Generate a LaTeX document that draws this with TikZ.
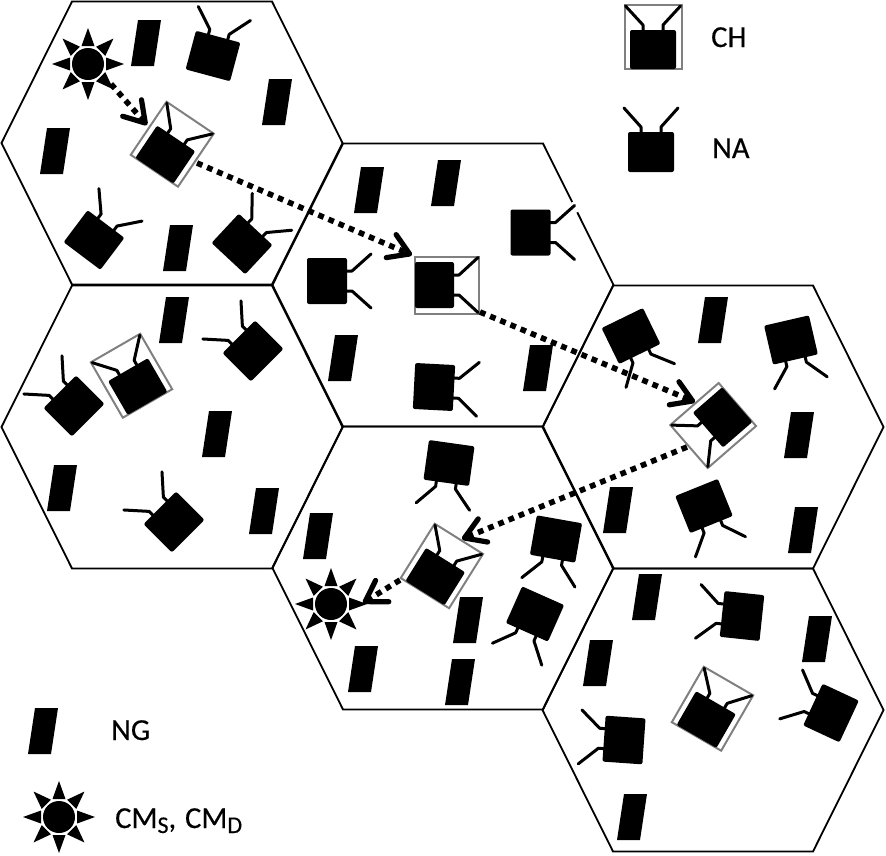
\documentclass[tikz,border=0pt]{standalone}
\usepackage{fontspec}
\setmainfont{Carlito}[FakeBold=0.4]
\usetikzlibrary{arrows.meta}
\definecolor{framegray}{gray}{0.5}
\tikzset{
  cellhex/.style={draw=black,line width=1.8pt,line join=miter},
  hop/.style={line width=5.6pt,dash pattern=on 5.8pt off 5.2pt,
    -{Straight Barb[length=20pt,width=25pt,line width=5.2pt,round]}},
  label/.style={font=\fontsize{30.5}{32}\selectfont,anchor=base west,inner sep=0pt},
  antenna/.style={line width=3pt,line cap=round,line join=round},
  ngshape/.pic={\fill (-8,-23) -- (15,-23) -- (8,23) -- (-15,23) -- cycle;},
  nashape/.pic={
    \fill[rounded corners=2pt] (-23,-20) rectangle (23,20);
    \draw[antenna] (-10,-19) -- (-10,-25) -- (-27,-44);
    \draw[antenna] (10,-19) -- (10,-25) -- (27,-44);},
  chshape/.pic={
    \draw[framegray,line width=2pt] (-28.5,-45) rectangle (28.5,19);
    \fill[rounded corners=2pt] (-23,-20) rectangle (23,19);
    \draw[antenna] (-10,-19) -- (-10,-25) -- (-27.5,-44);
    \draw[antenna] (10,-19) -- (10,-25) -- (27.5,-44);},
  cmshape/.pic={
    \foreach \a in {0,45,...,315}
      \fill[rotate=\a] (-6.5,-18) -- (6.5,-18) -- (0,-36) -- cycle;
    \fill (0,0) circle (16);},
}
\begin{document}
\begin{tikzpicture}[x=1pt,y=-1pt]
\useasboundingbox (0,0) rectangle (886,855);
% cells
\foreach \n/\cx/\cy in {h1/172/143,h2/172/427,h3/443/285,h4/443/568,h5/713/427,h6/713/710}
  \draw[cellhex] (\cx-100,\cy-141.5) -- (\cx+100,\cy-141.5) -- (\cx+170.5,\cy) -- (\cx+100,\cy+141.5) -- (\cx-100,\cy+141.5) -- (\cx-170.5,\cy) -- cycle;
\coordinate (gapa) at (572.5,202);
\coordinate (gapb) at (577.5,212);
\draw[white,line width=3pt] (gapa) -- (gapb);
% NG devices
\foreach \x/\y [count=\i] in {146/43,277/102,55/151,178/248,174/320,217/434,62/488,264/511,369/190,446/183,343/358,538/368,318/536,468/620,460/682,363/669,713/320,799/435,618/510,803/530,647/597,598/663,817/639,632/817,43/731}
  \pic (ng\i) at (\x,\y) {ngshape};
% NA devices
\foreach \x/\y/\r [count=\i] in {213/56/15,94/240/37,242/244/43,74/406/-45,253/351/-45,174/522/-45,530.5/232.5/90,327/281/90,434/387/93,631/336/154,791/340/167,704/506/158,449/463/188,556/539/190,535/614/204,742/616/-84,624/740/-86,831/713/-65,651/152/0}
  \pic[rotate=-\r] (na\i) at (\x,\y) {nashape};
% CH devices
\foreach \x/\y/\r [count=\i] in {165/155/34,138/387/-30,434/285/90,723/417/229,435/577/32,706/720/30,653/50/0}
  \pic[rotate=-\r] (ch\i) at (\x,\y) {chshape};
% CM devices
\pic (cms) at (88,64) {cmshape};
\pic (cmd) at (331,604) {cmshape};
\pic (cmk) at (59,817) {cmshape};
% route
\coordinate (r0) at (111,84);
\coordinate (r1) at (147,125);
\coordinate (r2) at (197,163);
\coordinate (r3) at (412,255);
\coordinate (r4) at (480,312);
\coordinate (r5) at (695,402);
\coordinate (r6) at (687,447);
\coordinate (r7) at (462,539);
\coordinate (r8) at (400,580);
\coordinate (r9) at (363,603);
\draw[hop] (r0) -- (r1);
\draw[hop] (r2) -- (r3);
\draw[hop] (r4) -- (r5);
\draw[hop] (r6) -- (r7);
\draw[hop] (r8) -- (r9);
% legend
\node[label] (lch) at (711,47) {CH};
\node[label] (lna) at (712,158) {NA};
\node[label] (lng) at (111,740) {NG};
\node[label] (lcm) at (115,828) {CM\raisebox{-5pt}{\fontsize{24}{26}\selectfont S}, \hspace{2pt}CM\raisebox{-5pt}{\fontsize{24}{26}\selectfont D}};
\end{tikzpicture}
\end{document}
